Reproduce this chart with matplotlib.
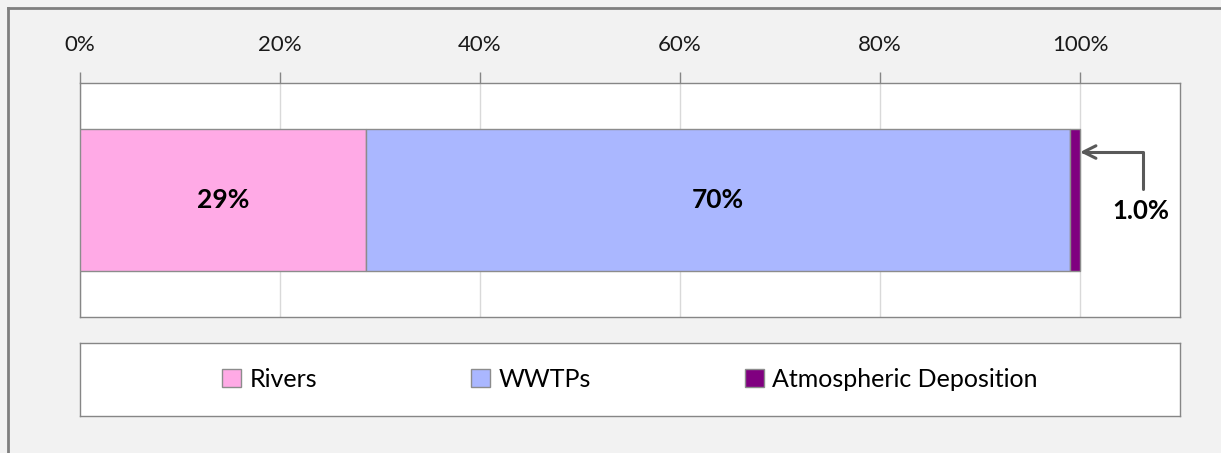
import matplotlib.pyplot as plt
from matplotlib.lines import Line2D

categories = ['Rivers', 'WWTPs', 'Atmospheric Deposition']
shares = [28.6, 70.4, 1.0]
colors = ['#FFAAE6', '#AAB7FF', '#800080']
tick_values = [0, 20, 40, 60, 80, 100]

plt.rcParams['font.family'] = ['Lato', 'DejaVu Sans']

fig = plt.figure(figsize=(12.21, 4.53), dpi=100)
fig.patch.set_facecolor('#F2F2F2')

W, H = 1221, 453
ax = fig.add_axes([80 / W, 1 - 317 / H, 1100 / W, 234 / H])
ax.set_facecolor('white')

left = 0
handles = []
for cat, val, col in zip(categories, shares, colors):
    b = ax.barh(0, val / 100, left=left, height=0.61, color=col,
                edgecolor='#8C8C8C', linewidth=1, label=cat, zorder=3)
    handles.append(b)
    if val > 5:
        ax.text(left + val / 200, 0, f'{val:.0f}%', ha='center', va='center',
                fontsize=19, fontweight='bold', color='black', zorder=4)
    left += val / 100

ax.set_xlim(0, 1.1)
ax.set_ylim(-0.5, 0.5)
ax.set_yticks([])
ax.set_xticks([v / 100 for v in tick_values])
ax.set_xticklabels([f'{v}%' for v in tick_values])
ax.xaxis.tick_top()
ax.tick_params(axis='x', length=8, width=1, color='#868686', pad=12,
               labelsize=16, labelcolor='#1a1a1a')
ax.grid(axis='x', color='#D9D9D9', linewidth=1, zorder=0)
for s in ax.spines.values():
    s.set_color('#868686')
    s.set_linewidth(1)

# callout for the small slice
ax.annotate('', xy=(1.0, 0.205), xytext=(1.063, 0.047),
            arrowprops=dict(arrowstyle='->,head_length=0.9,head_width=0.45',
                            connectionstyle='angle,angleA=90,angleB=0,rad=0',
                            color='#595959', lw=2.2, shrinkA=0, shrinkB=0),
            annotation_clip=False, zorder=5)
ax.text(1.061, -0.045, f'{shares[2]:.1f}%', ha='center', va='center',
        fontsize=18.5, fontweight='bold', color='black', zorder=5)

# legend box
lax = fig.add_axes([80 / W, 1 - 416 / H, 1100 / W, 73 / H])
lax.set_xticks([])
lax.set_yticks([])
lax.set_facecolor('white')
for s in lax.spines.values():
    s.set_color('#868686')
    s.set_linewidth(1)
lax.legend(handles=handles, loc='center', ncol=3, frameon=False,
           fontsize=18, handlelength=0.75, handleheight=0.75,
           handletextpad=0.35, columnspacing=6.15)

# outer chart border (left and top visible)
fig.add_artist(Line2D([8 / W, 8 / W], [0, 1 - 8 / H], transform=fig.transFigure,
                      color='#7F7F7F', linewidth=2))
fig.add_artist(Line2D([8 / W, 1], [1 - 8 / H, 1 - 8 / H], transform=fig.transFigure,
                      color='#7F7F7F', linewidth=2))

fig.savefig('out.png', dpi=100, facecolor=fig.get_facecolor())
